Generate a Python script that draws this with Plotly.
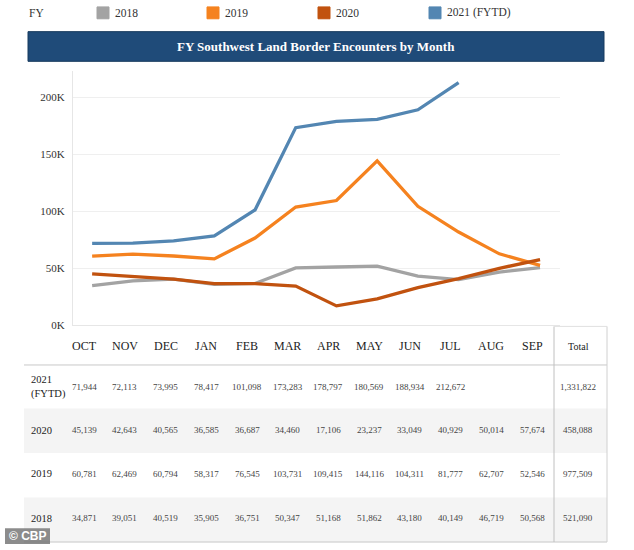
import plotly.graph_objects as go

W, H = 634, 550

months = ["OCT", "NOV", "DEC", "JAN", "FEB", "MAR", "APR", "MAY", "JUN", "JUL", "AUG", "SEP"]
series_names = ["2018", "2019", "2020", "2021 (FYTD)"]
row_labels = ["2021<br>(FYTD)", "2020", "2019", "2018"]

fy2018 = [34871, 39051, 40519, 35905, 36751, 50347, 51168, 51862, 43180, 40149, 46719, 50568]
fy2019 = [60781, 62469, 60794, 58317, 76545, 103731, 109415, 144116, 104311, 81777, 62707, 52546]
fy2020 = [45139, 42643, 40565, 36585, 36687, 34460, 17106, 23237, 33049, 40929, 50014, 57674]
fy2021 = [71944, 72113, 73995, 78417, 101098, 173283, 178797, 180569, 188934, 212672]
totals = {"2021 (FYTD)": 1331822, "2020": 458088, "2019": 977509, "2018": 521090}

tick_vals = [0, 50000, 100000, 150000, 200000]
tick_text = ["0K", "50K", "100K", "150K", "200K"]

colors = {"2018": "#a3a3a3", "2019": "#f5821f", "2020": "#c1520f", "2021 (FYTD)": "#5386b2"}
data = {"2018": fy2018, "2019": fy2019, "2020": fy2020, "2021 (FYTD)": fy2021}

SERIF = "'Liberation Serif', 'Times New Roman', 'DejaVu Serif', serif"


def px(x):
    return x / W


def py(y):
    return 1 - y / H


fig = go.Figure()
for name in series_names:
    vals = data[name]
    fig.add_trace(go.Scatter(
        x=list(range(len(vals))), y=vals, mode="lines", name=name,
        line=dict(color=colors[name], width=3.3), showlegend=False,
        hoverinfo="skip"))

shapes = []
annotations = []

# Legend (manual)
annotations.append(dict(x=px(27), y=py(13), xref="paper", yref="paper", text="FY",
                        showarrow=False, xanchor="left", yanchor="middle",
                        font=dict(family=SERIF, size=11.5, color="#333")))
legend_x = [97, 207, 318, 429]
for lx, name in zip(legend_x, series_names):
    shapes.append(dict(type="rect", xref="paper", yref="paper",
                       x0=px(lx), x1=px(lx + 12), y0=py(7), y1=py(19),
                       fillcolor=colors[name], line=dict(color=colors[name], width=1)))
    annotations.append(dict(x=px(lx + 16), y=py(13), xref="paper", yref="paper", text=name,
                            showarrow=False, xanchor="left", yanchor="middle",
                            font=dict(family=SERIF, size=11.5, color="#333")))

# Title banner
shapes.append(dict(type="rect", xref="paper", yref="paper", x0=px(28), x1=px(604),
                   y0=py(62), y1=py(32), fillcolor="#1f4b79",
                   line=dict(color="#173a5e", width=1)))
annotations.append(dict(x=px(316), y=py(47), xref="paper", yref="paper",
                        text="<b>FY Southwest Land Border Encounters by Month</b>",
                        showarrow=False, xanchor="center", yanchor="middle",
                        font=dict(family=SERIF, size=13, color="white")))

# Table shading
for (y0, y1) in [(413, 458), (503, 548)]:
    shapes.append(dict(type="rect", xref="paper", yref="paper", x0=px(24), x1=px(607),
                       y0=py(y1), y1=py(y0), fillcolor="#f4f4f4", line=dict(width=0),
                       layer="below"))
# Table lines
shapes.append(dict(type="line", xref="paper", yref="paper", x0=px(24), x1=px(607),
                   y0=py(369), y1=py(369), line=dict(color="#c8c8c8", width=1)))
shapes.append(dict(type="line", xref="paper", yref="paper", x0=px(24), x1=px(607),
                   y0=py(548), y1=py(548), line=dict(color="#c8c8c8", width=1)))
shapes.append(dict(type="line", xref="paper", yref="paper", x0=px(554), x1=px(554),
                   y0=py(548), y1=py(330), line=dict(color="#c0c0c0", width=1)))
shapes.append(dict(type="line", xref="paper", yref="paper", x0=px(607), x1=px(607),
                   y0=py(548), y1=py(330), line=dict(color="#d0d0d0", width=1)))
shapes.append(dict(type="line", xref="paper", yref="paper", x0=px(554), x1=px(607),
                   y0=py(330), y1=py(330), line=dict(color="#e0e0e0", width=1)))

# Table header
for i, m in enumerate(months):
    annotations.append(dict(x=i, y=py(350), xref="x", yref="paper", text=m, xshift=-8,
                            showarrow=False, xanchor="center", yanchor="middle",
                            font=dict(family=SERIF, size=12, color="#222")))
annotations.append(dict(x=px(578), y=py(350), xref="paper", yref="paper", text="Total",
                        showarrow=False, xanchor="center", yanchor="middle",
                        font=dict(family=SERIF, size=10, color="#222")))

# Table rows
row_y = [391, 435, 479, 524]
row_series = ["2021 (FYTD)", "2020", "2019", "2018"]
for ry, lab, name in zip(row_y, row_labels, row_series):
    annotations.append(dict(x=px(29), y=py(ry), xref="paper", yref="paper", text=lab,
                            showarrow=False, xanchor="left", yanchor="middle", align="left",
                            font=dict(family=SERIF, size=10.5, color="#222")))
    for i, v in enumerate(data[name]):
        annotations.append(dict(x=i, y=py(ry), xref="x", yref="paper", text=f"{v:,}",
                                xshift=-8, showarrow=False, xanchor="center",
                                yanchor="middle",
                                font=dict(family=SERIF, size=9, color="#444")))
    annotations.append(dict(x=px(578), y=py(ry), xref="paper", yref="paper",
                            text=f"{totals[name]:,}", showarrow=False, xanchor="center",
                            yanchor="middle", font=dict(family=SERIF, size=9, color="#444")))

# Watermark
shapes.append(dict(type="rect", xref="paper", yref="paper", x0=px(5), x1=px(50),
                   y0=py(550), y1=py(534), fillcolor="rgba(120,120,120,0.85)",
                   line=dict(width=0)))
annotations.append(dict(x=px(27.5), y=py(542), xref="paper", yref="paper", text="<b>© CBP</b>",
                        showarrow=False, xanchor="center", yanchor="middle",
                        font=dict(family="'Liberation Sans', Arial, sans-serif", size=12,
                                  color="white")))

fig.update_layout(
    width=W, height=H,
    margin=dict(l=0, r=0, t=0, b=0),
    paper_bgcolor="white", plot_bgcolor="white",
    font=dict(family=SERIF),
    shapes=shapes, annotations=annotations,
    xaxis=dict(domain=[px(73), px(560)], range=[-0.47, 11.49], showticklabels=False,
               showgrid=False, zeroline=False, showline=True, linecolor="#e6e6e6",
               mirror=False, fixedrange=True),
    yaxis=dict(domain=[py(329), py(72)], range=[0, 222700], tickvals=tick_vals,
               ticktext=tick_text, showgrid=True, gridcolor="#efefef", zeroline=False,
               showline=True, linecolor="#e6e6e6", ticks="outside", ticklen=5,
               tickcolor="rgba(0,0,0,0)",
               tickfont=dict(family=SERIF, size=11, color="#333"), fixedrange=True),
    showlegend=False,
)

fig.write_html("out.html", config={"displayModeBar": False},
               post_script="document.body.style.margin='0';document.body.style.overflow='hidden';")
